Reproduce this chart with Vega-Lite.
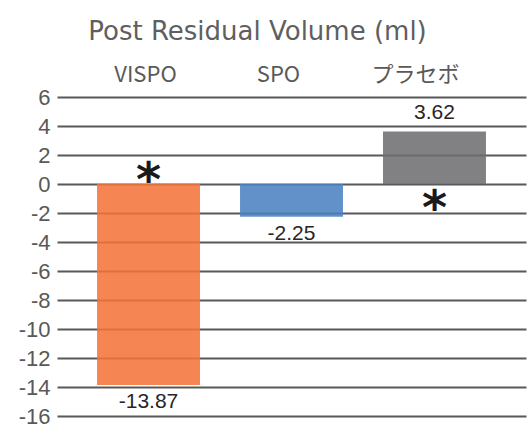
{
  "$schema": "https://vega.github.io/schema/vega-lite/v6.json",
  "width": 469,
  "height": 319,
  "autosize": {"type": "none"},
  "padding": {"left": 57, "top": 97, "right": 3, "bottom": 18},
  "background": "white",
  "title": {
    "text": "Post Residual Volume (ml)",
    "font": "DejaVu Sans",
    "fontSize": 26,
    "fontWeight": "normal",
    "color": "#5f5f5f",
    "anchor": "middle",
    "frame": "group",
    "dx": -34,
    "offset": 18
  },
  "config": {"view": {"stroke": null}},
  "data": {
    "values": [
      {"group": "VISPO", "value": -13.87, "label": "-13.87", "star": "above"},
      {"group": "SPO", "value": -2.25, "label": "-2.25", "star": "none"},
      {"group": "プラセボ", "value": 3.62, "label": "3.62", "star": "below"}
    ]
  },
  "encoding": {
    "x": {
      "field": "group",
      "type": "nominal",
      "sort": null,
      "scale": {"paddingInner": 0.28, "paddingOuter": 0.28},
      "axis": {
        "orient": "top",
        "title": null,
        "ticks": false,
        "domain": false,
        "labelAngle": 0,
        "labelFont": "Noto Sans CJK JP",
        "labelFontSize": 22,
        "labelColor": "#595959",
        "labelPadding": 11,
        "labelOffset": {"condition": [{"test": "datum.value == 'SPO'", "value": -13}, {"test": "datum.value == 'プラセボ'", "value": -19}], "value": -3}
      }
    },
    "y": {
      "field": "value",
      "type": "quantitative",
      "scale": {"domain": [-16, 6], "nice": false, "zero": true},
      "axis": {
        "values": [-16, -14, -12, -10, -8, -6, -4, -2, 0, 2, 4, 6],
        "tickCount": 12,
        "labelExpr": "'' + datum.value",
        "labelOverlap": false,
        "title": null,
        "grid": true,
        "gridColor": "#595959",
        "gridWidth": 2,
        "gridOpacity": 1,
        "ticks": false,
        "domain": false,
        "labelFont": "Liberation Sans",
        "labelFontSize": 22,
        "labelColor": "#595959",
        "labelPadding": 7
      }
    }
  },
  "layer": [
    {
      "mark": {"type": "bar", "opacity": 0.87},
      "encoding": {
        "color": {
          "field": "group",
          "type": "nominal",
          "scale": {"domain": ["VISPO", "SPO", "プラセボ"], "range": ["#F4733A", "#4A81C0", "#6E6E72"]},
          "legend": null
        }
      }
    },
    {
      "transform": [{"filter": "datum.value < 0"}],
      "mark": {"type": "text", "baseline": "top", "dy": 6, "font": "Liberation Sans", "fontSize": 21, "color": "#262626"},
      "encoding": {
        "text": {"field": "label"}
      }
    },
    {
      "transform": [{"filter": "datum.value > 0"}],
      "mark": {"type": "text", "baseline": "bottom", "dy": -9, "font": "Liberation Sans", "fontSize": 21, "color": "#262626"},
      "encoding": {
        "text": {"field": "label"}
      }
    },
    {
      "transform": [{"filter": "datum.star == 'above'"}],
      "mark": {"type": "text", "baseline": "middle", "dy": -2, "font": "DejaVu Sans", "fontSize": 48, "fontWeight": "bold", "color": "#1a1a1a", "text": "*"},
      "encoding": {
        "y": {"datum": 0, "type": "quantitative"}
      }
    },
    {
      "transform": [{"filter": "datum.star == 'below'"}],
      "mark": {"type": "text", "baseline": "middle", "dy": 26, "font": "DejaVu Sans", "fontSize": 48, "fontWeight": "bold", "color": "#1a1a1a", "text": "*"},
      "encoding": {
        "y": {"datum": 0, "type": "quantitative"}
      }
    }
  ]
}
